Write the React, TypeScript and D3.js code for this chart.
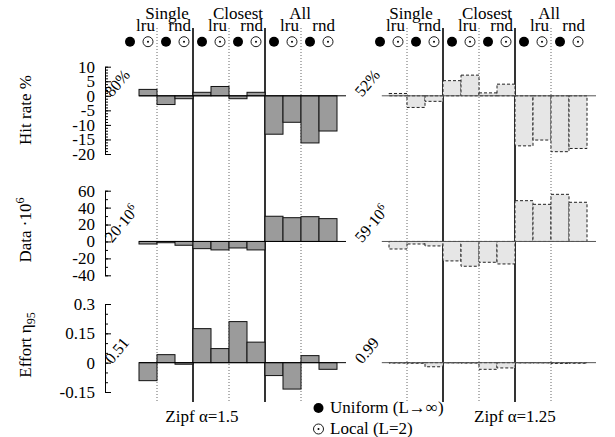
import React, { useEffect, useRef } from "react";
import * as d3 from "d3";

// 12 configurations per panel: group x policy x placement
const groups = ["Single", "Closest", "All"];
const policies = ["lru", "rnd"];
const placements = ["uniform", "local"]; // ● uniform, ⊙ local

// first slot has no bar in the original figure
const hitRate15 = [null, 2.2, -3.0, -1.0, 1.2, 3.2, -1.0, 1.2, -13.2, -9.1, -16.2, -12.1];
const data15 = [null, -3, -1.5, -4.5, -8.5, -10, -7.7, -10, 29.8, 28.1, 29.3, 27];
const effort15 = [null, -0.092, 0.041, -0.008, 0.174, 0.072, 0.21, 0.105, -0.066, -0.135, 0.036, -0.034];

const hitRate125 = [null, 0.8, -4.0, -1.9, 5.2, 7.1, 1.0, 4.0, -17.2, -15.2, -19.2, -18.1];
const data125 = [null, -8.9, -3, -5.3, -23, -29.3, -24.6, -26.6, 48.2, 43.9, 55.7, 46.3];
const effort125 = [null, -0.002, -0.003, -0.021, -0.001, -0.002, -0.034, -0.027, -0.001, -0.001, -0.004, -0.003];

const base15 = ["80%", "20·10", "0.51"];
const base125 = ["52%", "59·10", "0.99"];

const hitTicks = [10, 5, 0, -5, -10, -15, -20];
const dataTicks = [60, 40, 20, 0, -20, -40];
const effortTicks = [0.3, 0.15, 0, -0.15];

const FONT = "Liberation Serif";

const rows = [
  { key: "hit", domain: [-20, 10], range: [154, 66.7], major: hitTicks, minor: d3.range(-20, 10.01, 1), fmt: (d: number) => String(d) },
  { key: "data", domain: [-40, 60], range: [275.3, 190.7], major: dataTicks, minor: d3.range(-40, 60.01, 10), fmt: (d: number) => String(d) },
  { key: "effort", domain: [-0.15, 0.3], range: [392, 304], major: effortTicks, minor: d3.range(-0.15, 0.301, 0.05), fmt: (d: number) => (d === 0 ? "0" : String(d)) },
];

const panels = [
  { name: "Zipf α=1.5", x0: 121, series: [hitRate15, data15, effort15], base: base15, fill: "#9b9b9b", stroke: "#111", dash: "", zero: "#000", zeroStart: 1, titleX: 202, labelDx: [10, 9, -1] },
  { name: "Zipf α=1.25", x0: 371, series: [hitRate125, data125, effort125], base: base125, fill: "#e6e6e6", stroke: "#222", dash: "3,2", zero: "#555", zeroStart: 0.6, titleX: 515, labelDx: [4, 8, -2] },
];

const slots = groups.flatMap((g) => policies.flatMap((p) => placements.map((m) => ({ g, p, m }))));

function Marker({ cx, cy, kind }: { cx: number; cy: number; kind: string }) {
  if (kind === "uniform") return <circle cx={cx} cy={cy} r={5} fill="#000" />;
  return (
    <g>
      <circle cx={cx} cy={cy} r={5} fill="#fff" stroke="#000" strokeWidth={0.9} />
      <circle cx={cx} cy={cy} r={1} fill="#000" />
    </g>
  );
}

export default function App() {
  const axisRef = useRef<SVGGElement>(null);
  const yScales = rows.map((r) => d3.scaleLinear().domain(r.domain).range(r.range));

  useEffect(() => {
    const g = d3.select(axisRef.current);
    g.selectAll("*").remove();
    rows.forEach((r, i) => {
      const y = yScales[i];
      const minorAxis = d3.axisLeft(y).tickValues(r.minor).tickSizeInner(-3).tickSizeOuter(0).tickFormat(() => "");
      const majorAxis = d3.axisLeft(y).tickValues(r.major).tickSizeInner(-6).tickSizeOuter(0).tickPadding(10).tickFormat((d) => r.fmt(+d));
      g.append("g").attr("transform", "translate(105,0)").call(minorAxis);
      const ax = g.append("g").attr("transform", "translate(105,0)").call(majorAxis);
      ax.selectAll("text").style("font-family", FONT).attr("font-size", 17).attr("fill", "#000");
    });
    g.selectAll("path, line").attr("stroke", "#000").attr("stroke-width", 1);
  }, []);

  return (
    <svg width={615} height={437} style={{ position: "absolute", left: 0, top: 0, background: "#fff", fontFamily: FONT }}>
      <rect width={615} height={437} fill="#fff" />
      {/* row titles */}
      <text transform="translate(31,110) rotate(-90)" textAnchor="middle" fontSize={17}>Hit rate %</text>
      <text transform="translate(31,230) rotate(-90)" textAnchor="middle" fontSize={17}>
        Data ·10<tspan fontSize={12} dy={-7}>6</tspan>
      </text>
      <text transform="translate(31,345) rotate(-90)" textAnchor="middle" fontSize={17}>
        Effort  η<tspan fontSize={12} dy={4}>95</tspan>
      </text>
      <g ref={axisRef} />
      {panels.map((p) => {
        const x = d3.scaleLinear().domain([0, 12]).range([p.x0, p.x0 + 216]);
        return (
          <g key={p.name}>
            {/* group separators */}
            {[2, 6, 10].map((i) => (
              <line key={"d" + i} x1={x(i)} x2={x(i)} y1={28} y2={401} stroke="#666" strokeDasharray="1,2" strokeWidth={1} />
            ))}
            {[4, 8].map((i) => (
              <line key={"s" + i} x1={x(i)} x2={x(i)} y1={28} y2={402} stroke="#000" strokeWidth={1.6} />
            ))}
            {/* header labels */}
            {groups.map((g, gi) => (
              <text key={g} x={x(gi * 4 + 2) + p.labelDx[gi]} y={19} textAnchor="middle" fontSize={17}>{g}</text>
            ))}
            {groups.flatMap((g, gi) =>
              policies.map((pol, pi) => (
                <text key={g + pol} x={x(gi * 4 + pi * 2 + 2) - 2} y={31} textAnchor="end" fontSize={17}>{pol}</text>
              ))
            )}
            {slots.map((s, i) => (
              <Marker key={i} cx={x(i + 0.5)} cy={41.7} kind={s.m} />
            ))}
            {/* bars per row */}
            {rows.map((r, ri) => {
              const y = yScales[ri];
              const vals = p.series[ri];
              return (
                <g key={r.key}>
                  {vals.map((v, i) =>
                    v === null ? null : (
                      <rect key={i} x={x(i)} width={x(i + 1) - x(i)} y={Math.min(y(v), y(0))} height={Math.abs(y(v) - y(0))}
                        fill={p.fill} stroke={p.stroke} strokeWidth={1} strokeDasharray={p.dash || undefined} />
                    )
                  )}
                  <line x1={x(p.zeroStart)} x2={x(12) + 9} y1={y(0)} y2={y(0)} stroke={p.zero} strokeWidth={1} />
                  <text transform={`translate(${p.x0 - 9},${y(0) + 2}) rotate(-50)`} fontSize={16}>
                    {p.base[ri]}
                    {ri === 1 ? <tspan fontSize={11} dy={-6}>6</tspan> : null}
                  </text>
                </g>
              );
            })}
            <text x={p.titleX} y={422} textAnchor="middle" fontSize={17}>{p.name}</text>
          </g>
        );
      })}
      {/* legend */}
      <circle cx={318.5} cy={408} r={5} fill="#000" />
      <text x={330} y={413} fontSize={17}>Uniform (L→∞)</text>
      <circle cx={318.5} cy={429} r={5} fill="#fff" stroke="#000" strokeWidth={0.9} />
      <circle cx={318.5} cy={429} r={1} fill="#000" />
      <text x={330} y={434} fontSize={17}>Local (L=2)</text>
    </svg>
  );
}
